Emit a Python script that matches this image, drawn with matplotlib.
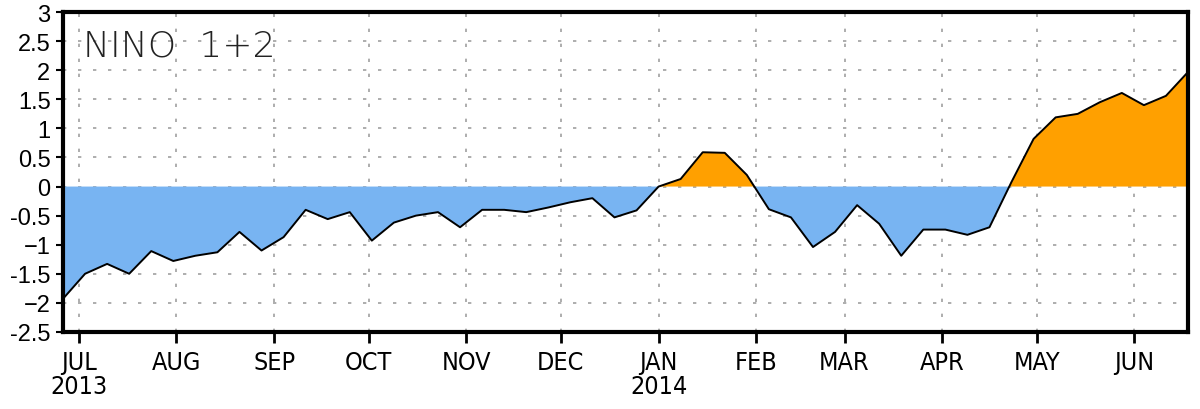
import numpy as np
import matplotlib
matplotlib.use("Agg")
import matplotlib.pyplot as plt
import matplotlib.dates as mdates
from matplotlib import font_manager
from datetime import datetime, timedelta

# weekly Nino 1+2 SST anomaly, weeks centred on Wednesdays
start_week = datetime(2013, 6, 26)
anomaly = [
    -1.93, -1.50, -1.33, -1.50, -1.11, -1.28, -1.19, -1.13, -0.78, -1.10,
    -0.87, -0.40, -0.56, -0.44, -0.93, -0.62, -0.50, -0.44, -0.70, -0.40,
    -0.40, -0.44, -0.36, -0.27, -0.20, -0.53, -0.41, 0.00, 0.13, 0.59,
    0.58, 0.20, -0.39, -0.53, -1.04, -0.78, -0.32, -0.64, -1.19, -0.74,
    -0.74, -0.83, -0.70, 0.08, 0.82, 1.19, 1.25, 1.45, 1.61, 1.40,
    1.56, 1.97,
]
month_labels = ["JUL\n2013", "AUG", "SEP", "OCT", "NOV", "DEC",
                "JAN\n2014", "FEB", "MAR", "APR", "MAY", "JUN"]
y_ticks = [-2.5, -2, -1.5, -1, -0.5, 0, 0.5, 1, 1.5, 2, 2.5, 3]

dates = [start_week + timedelta(weeks=i) for i in range(len(anomaly))]
month_starts = [datetime(2013 + (6 + k) // 12, (6 + k) % 12 + 1, 1) for k in range(12)]

# pick a narrow face for the month labels if one is around
fonts = font_manager.fontManager.ttflist
xfont = dict(fontfamily="Liberation Sans")
if any(f.name == "Liberation Sans Narrow" for f in fonts):
    xfont = dict(fontfamily="Liberation Sans Narrow")
elif any(f.name == "DejaVu Sans" and f.stretch == "condensed" for f in fonts):
    xfont = dict(fontfamily="DejaVu Sans", fontstretch="condensed")

fig = plt.figure(figsize=(12, 4.1), dpi=100)
ax = fig.add_axes([0.0525, 0.188, 0.9375, 0.78])

x = mdates.date2num(dates)
y = np.array(anomaly)
ax.fill_between(x, y, 0, where=y >= 0, interpolate=True, color="#FFA000", lw=0)
ax.fill_between(x, y, 0, where=y <= 0, interpolate=True, color="#78B4F2", lw=0)
ax.plot(x, y, color="black", lw=1.4)

ax.set_xlim(x[0], x[-1])
ax.set_ylim(-2.5, 3)

ax.set_xticks(mdates.date2num(month_starts))
ax.set_xticklabels(month_labels, fontsize=18, linespacing=1.0, **xfont)
ax.set_yticks(y_ticks)

def ylab(v):
    if v == 0:
        return "0"
    if float(v).is_integer():
        return ("\u2212%d" % -v) if v < 0 else "%d" % v
    return "%g" % v

ax.set_yticklabels([ylab(v) for v in y_ticks], fontfamily="Liberation Sans", fontsize=17)
ax.tick_params(axis="x", direction="out", length=8, width=2, pad=5)
ax.tick_params(axis="y", direction="out", length=5, width=1.5, pad=4)

for v in y_ticks[1:-1]:
    ax.axhline(v, color="#a0a0a0", lw=1.2, ls=(0, (2, 7)), zorder=0)
for m in month_starts:
    ax.axvline(mdates.date2num(m), color="#a0a0a0", lw=1.2, ls=(0, (2, 7)), zorder=0)

for s in ax.spines.values():
    s.set_linewidth(3)

ax.text(0.018, 0.895, "NINO  1+2", transform=ax.transAxes, fontsize=26,
        fontfamily="DejaVu Sans", fontweight="light", color="#222222", va="center")

fig.savefig("out.png", dpi=100)
